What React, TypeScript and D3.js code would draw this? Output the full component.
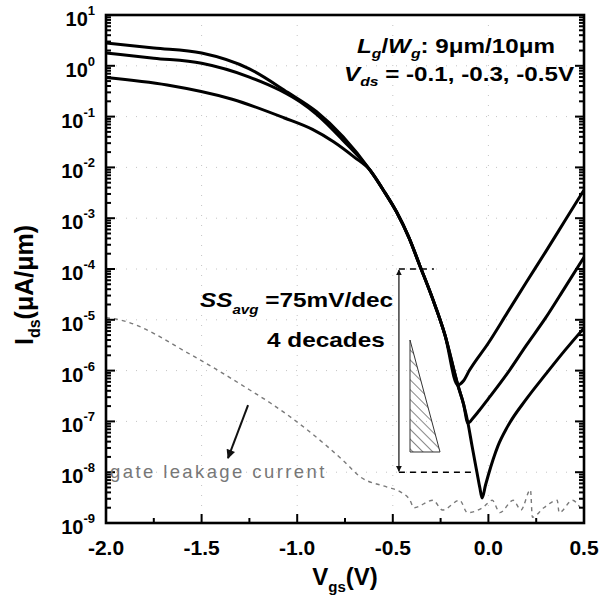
import React from "react";
import * as d3 from "d3";

// ---- data (Vgs in V, Ids in uA/um) ----
const vgsHigh = [-2.0, -1.75, -1.5, -1.25, -1.05, -0.9, -0.76, -0.62, -0.55, -0.48, -0.415, -0.36, -0.295, -0.227, -0.16, -0.13, -0.1, 0.0, 0.1, 0.2, 0.3, 0.4, 0.5];
const idsHigh = [2.8, 2.24, 1.78, 0.87, 0.30, 0.126, 0.040, 8.9e-3, 3.6e-3, 1.32e-3, 4.1e-4, 1.2e-4, 2.8e-5, 5.0e-6, 5.2e-7, 6.3e-7, 1.0e-6, 3.5e-6, 1.4e-5, 5.6e-5, 2.2e-4, 8.9e-4, 3.6e-3];

const vgsMid = [-2.0, -1.75, -1.5, -1.25, -1.09, -0.985, -0.9, -0.76, -0.62, -0.55, -0.48, -0.415, -0.36, -0.295, -0.227, -0.16, -0.13, -0.107, -0.08, -0.05, 0.0, 0.1, 0.2, 0.3, 0.4, 0.5];
const idsMid = [1.78, 1.41, 1.12, 0.60, 0.33, 0.195, 0.112, 0.034, 8.9e-3, 3.6e-3, 1.32e-3, 4.1e-4, 1.2e-4, 2.8e-5, 5.0e-6, 5.2e-7, 2.2e-7, 9.3e-8, 1.17e-7, 1.6e-7, 2.8e-7, 8.9e-7, 3.2e-6, 1.1e-5, 4.3e-5, 1.7e-4];

const vgsLow = [-2.0, -1.68, -1.34, -1.07, -0.92, -0.81, -0.7, -0.62, -0.55, -0.48, -0.415, -0.36, -0.295, -0.227, -0.16, -0.13, -0.107, -0.085, -0.06, -0.045, -0.033, -0.015, 0.0, 0.025, 0.05, 0.1, 0.2, 0.3, 0.4, 0.5];
const idsLow = [0.59, 0.42, 0.22, 0.095, 0.056, 0.032, 0.0158, 8.9e-3, 3.6e-3, 1.32e-3, 4.1e-4, 1.2e-4, 2.8e-5, 5.0e-6, 5.2e-7, 2.2e-7, 9.3e-8, 3.2e-8, 1.0e-8, 5.0e-9, 3.1e-9, 5.6e-9, 8.9e-9, 1.8e-8, 3.3e-8, 7.9e-8, 2.8e-7, 8.5e-7, 2.5e-6, 6.9e-6];

const vgsGate = [-2.0, -1.93, -1.55, -1.25, -1.14, -0.76, -0.67, -0.53, -0.46, -0.41, -0.39, -0.29, -0.24, -0.15, -0.11, -0.03, 0.02, 0.06, 0.13, 0.17, 0.22, 0.23, 0.29, 0.36, 0.37, 0.44, 0.48];
const idsGate = [1.1e-5, 1.0e-5, 2.0e-6, 4.2e-7, 2.3e-7, 1.7e-8, 8.1e-9, 5.1e-9, 4.1e-9, 2.8e-9, 2.0e-9, 2.8e-9, 1.8e-9, 2.8e-9, 1.6e-9, 2.0e-9, 2.8e-9, 1.6e-9, 2.8e-9, 1.8e-9, 4.5e-9, 1.3e-9, 2.0e-9, 2.8e-9, 1.6e-9, 2.8e-9, 2.0e-9];

const xTickValues = [-2.0, -1.5, -1.0, -0.5, 0.0, 0.5];
const xTickLabels = ["-2.0", "-1.5", "-1.0", "-0.5", "0.0", "0.5"];
const yDecades = [-9, -8, -7, -6, -5, -4, -3, -2, -1, 0, 1];
const yTickLabels = ["-9", "-8", "-7", "-6", "-5", "-4", "-3", "-2", "-1", "0", "1"];

// annotation anchors in data units
const ssVgs = -0.468;
const ssTop = 1e-4;
const ssBottom = 1e-8;
const ssTopDashEnd = -0.285;
const ssBottomDashEnd = -0.09;
const triangleVgs = [-0.41, -0.41, -0.253];
const triangleIds = [4e-6, 2.5e-8, 2.5e-8];
const gateArrowVgs = [-1.257, -1.362];
const gateArrowIds = [2.1e-7, 1.9e-8];

const W = 603, H = 603;
const L = 106, R = 584, T = 15, B = 523;
const FONT = "'Liberation Sans', Arial, Helvetica, sans-serif";

export default function App() {
  const x = d3.scaleLinear().domain([-2, 0.5]).range([L, R]);
  const y = d3.scaleLog().domain([1e-9, 1e1]).range([B, T]);
  const line = d3.line<[number, number]>().x(d => x(d[0])).y(d => y(d[1])).curve(d3.curveMonotoneX);
  const pts = (v: number[], i: number[]) => v.map((vv, k) => [vv, i[k]] as [number, number]);

  const minorX = d3.range(xTickValues.length - 1).map(k => (xTickValues[k] + xTickValues[k + 1]) / 2);
  const minorY: number[] = [];
  yDecades.slice(0, -1).forEach(e => { for (let m = 2; m <= 9; m++) minorY.push(m * Math.pow(10, e)); });

  const tri = triangleVgs.map((v, k) => `${x(v)},${y(triangleIds[k])}`).join(" ");

  return (
    <svg width={W} height={H} style={{ position: "absolute", left: 0, top: 0, background: "#fff" }} fontFamily={FONT}>
      <defs>
        <pattern id="hatch" patternUnits="userSpaceOnUse" width="7" height="7" patternTransform="rotate(-45)">
          <line x1="0" y1="0" x2="0" y2="7" stroke="#111" strokeWidth="1" />
        </pattern>
        <marker id="arr" viewBox="0 0 10 10" refX="9" refY="5" markerWidth="6" markerHeight="7" orient="auto-start-reverse" markerUnits="userSpaceOnUse">
          <path d="M0,0 L10,5 L0,10 z" fill="#111" />
        </marker>
        <marker id="arrBig" viewBox="0 0 10 10" refX="9" refY="5" markerWidth="12" markerHeight="9" orient="auto" markerUnits="userSpaceOnUse">
          <path d="M0,0 L10,5 L0,10 z" fill="#111" />
        </marker>
        <clipPath id="plot"><rect x={L} y={T} width={R - L} height={B - T} /></clipPath>
      </defs>
      <rect x={0} y={0} width={W} height={H} fill="#fff" />

      {/* faint dotted grid */}
      <g stroke="#c4c4c4" strokeWidth={1} strokeDasharray="1 9">
        {xTickValues.slice(1, -1).map(v => <line key={"gx" + v} x1={x(v)} x2={x(v)} y1={T} y2={B} />)}
        {yDecades.slice(1, -1).map(e => <line key={"gy" + e} x1={L} x2={R} y1={y(Math.pow(10, e))} y2={y(Math.pow(10, e))} />)}
      </g>

      {/* gate leakage */}
      <path d={line(pts(vgsGate, idsGate)) || ""} fill="none" stroke="#7a7a7a" strokeWidth={1.4} strokeDasharray="4 4" clipPath="url(#plot)" />

      {/* Id curves */}
      <g fill="none" stroke="#000" strokeWidth={3} strokeLinejoin="round" clipPath="url(#plot)">
        <path d={line(pts(vgsHigh, idsHigh)) || ""} />
        <path d={line(pts(vgsMid, idsMid)) || ""} />
        <path d={line(pts(vgsLow, idsLow)) || ""} />
      </g>

      {/* SS annotation */}
      <g>
        <line x1={x(ssVgs)} x2={x(ssTopDashEnd)} y1={y(ssTop)} y2={y(ssTop)} stroke="#000" strokeWidth={1.5} strokeDasharray="6 5" />
        <line x1={x(ssVgs)} x2={x(ssBottomDashEnd)} y1={y(ssBottom)} y2={y(ssBottom)} stroke="#000" strokeWidth={1.5} strokeDasharray="6 5" />
        <line x1={x(ssVgs)} x2={x(ssVgs)} y1={y(ssTop) + 1} y2={y(ssBottom) - 1} stroke="#222" strokeWidth={1.3} markerStart="url(#arr)" markerEnd="url(#arr)" />
        <polygon points={tri} fill="url(#hatch)" stroke="#333" strokeWidth={1} />
      </g>

      {/* gate leakage arrow */}
      <line x1={x(gateArrowVgs[0])} y1={y(gateArrowIds[0])} x2={x(gateArrowVgs[1])} y2={y(gateArrowIds[1])} stroke="#111" strokeWidth={2} markerEnd="url(#arrBig)" />

      {/* frame */}
      <rect x={L} y={T} width={R - L} height={B - T} fill="none" stroke="#000" strokeWidth={2.6} />

      {/* ticks */}
      <g stroke="#000" strokeWidth={2}>
        {xTickValues.map(v => <line key={"xt" + v} x1={x(v)} x2={x(v)} y1={B} y2={B - 9} />)}
        {minorX.map(v => <line key={"xm" + v} x1={x(v)} x2={x(v)} y1={B} y2={B - 5} />)}
        {yDecades.map(e => (
          <g key={"yt" + e}>
            <line x1={L} x2={L + 9} y1={y(Math.pow(10, e))} y2={y(Math.pow(10, e))} />
            <line x1={R} x2={R - 9} y1={y(Math.pow(10, e))} y2={y(Math.pow(10, e))} />
          </g>
        ))}
        {minorY.map((v, k) => (
          <g key={"ym" + k}>
            <line x1={L} x2={L + 5} y1={y(v)} y2={y(v)} />
            <line x1={R} x2={R - 5} y1={y(v)} y2={y(v)} />
          </g>
        ))}
      </g>

      {/* x tick labels */}
      <g fontWeight="bold" fontSize={21} textAnchor="middle" fill="#000">
        {xTickValues.map((v, k) => <text key={"xl" + v} x={x(v)} y={555}>{xTickLabels[k]}</text>)}
      </g>
      {/* y tick labels */}
      <g fontWeight="bold" fill="#000">
        {yDecades.map((e, k) => (
          <text key={"yl" + e} x={95} y={y(Math.pow(10, e)) + 11} textAnchor="end" fontSize={20}>
            10<tspan dy={-11} fontSize={13}>{yTickLabels[k]}</tspan>
          </text>
        ))}
      </g>

      {/* axis titles */}
      <text x={345} y={585} textAnchor="middle" fontWeight="bold" fontSize={24}>
        V<tspan dy={7} fontSize={15}>gs</tspan><tspan dy={-7}>(V)</tspan>
      </text>
      <text transform={`translate(33,285) rotate(-90)`} textAnchor="middle" fontWeight="bold" fontSize={25}>
        I<tspan dy={7} fontSize={16}>ds</tspan><tspan dy={-7}>(μA/μm)</tspan>
      </text>

      {/* top-right annotation */}
      <g fontWeight="bold" fontSize={20}>
        <g transform="translate(357,53) scale(1.21,1)">
          <text x={0} y={0}>
            <tspan fontStyle="italic">L</tspan><tspan fontStyle="italic" fontSize={13} dy={5}>g</tspan><tspan dy={-5}>/</tspan><tspan fontStyle="italic">W</tspan><tspan fontStyle="italic" fontSize={13} dy={5}>g</tspan><tspan dy={-5}>: 9μm/10μm</tspan>
          </text>
        </g>
        <g transform="translate(344,81) scale(1.21,1)">
          <text x={0} y={0}>
            <tspan fontStyle="italic">V</tspan><tspan fontStyle="italic" fontSize={13} dy={5}>ds</tspan><tspan dy={-5}> = -0.1, -0.3, -0.5V</tspan>
          </text>
        </g>
      </g>

      {/* SS annotation text */}
      <g fontWeight="bold" fontSize={21}>
        <g transform="translate(200,307) scale(1.16,1)">
          <text x={0} y={0}>
            <tspan fontStyle="italic">SS</tspan><tspan fontStyle="italic" fontSize={13} dy={7}>avg</tspan><tspan dy={-7}> =75mV/dec</tspan>
          </text>
        </g>
        <g transform="translate(267,347) scale(1.16,1)">
          <text x={0} y={0}>4 decades</text>
        </g>
      </g>

      {/* gate leakage label */}
      <text x={110} y={478} fontSize={18.5} letterSpacing={2.4} fill="#777">gate leakage current</text>
    </svg>
  );
}
